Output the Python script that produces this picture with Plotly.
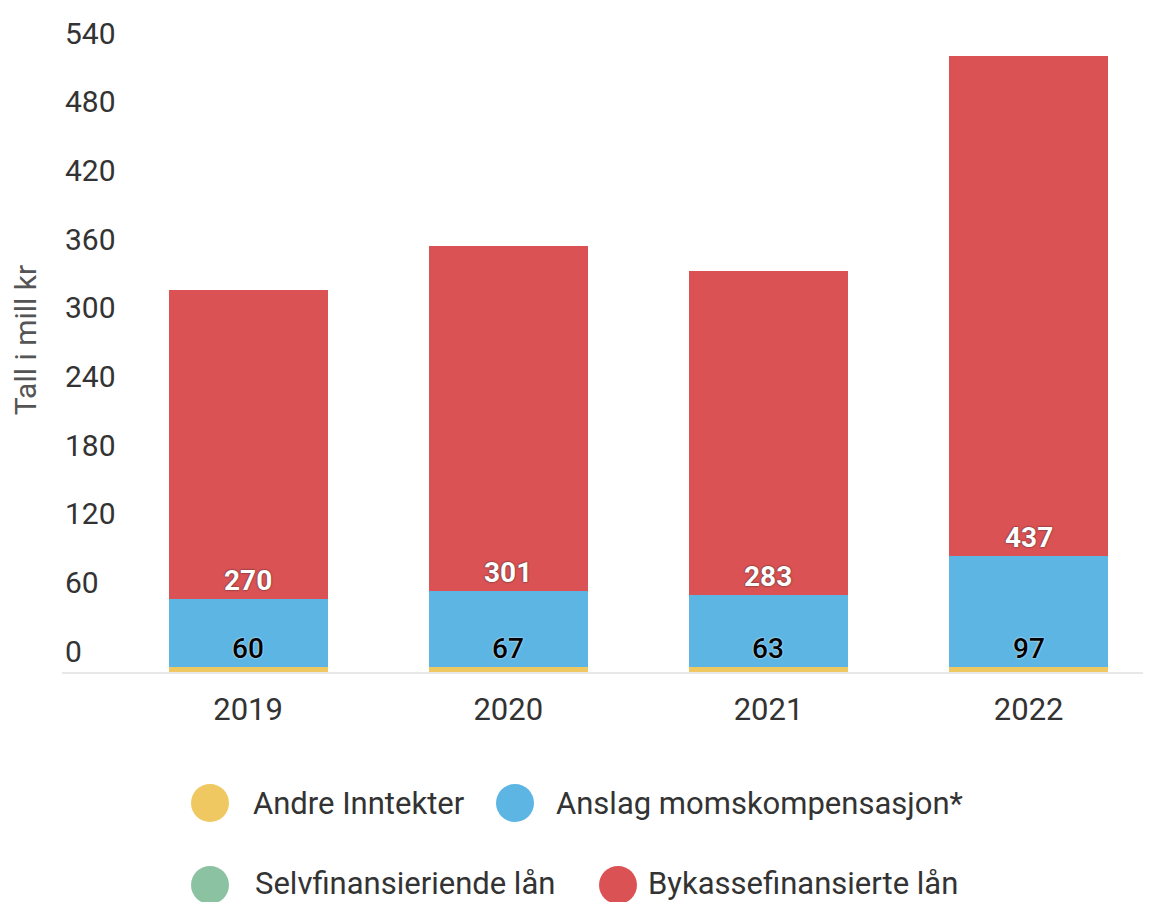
import plotly.graph_objects as go

years = ["2019", "2020", "2021", "2022"]
andre_inntekter = [4, 4, 4, 4]
momskompensasjon = [60, 67, 63, 97]
selvfinansierende = [0, 0, 0, 0]
bykassefinansierte = [270, 301, 283, 437]

series_names = ["Andre Inntekter", "Anslag momskompensasjon*", "Selvfinansieriende lån", "Bykassefinansierte lån"]
colors = ["#F0C862", "#5DB5E3", "#8BC2A2", "#DB5254"]
y_ticks = [0, 60, 120, 180, 240, 300, 360, 420, 480, 540]

FONT = "Roboto"
TEXT = "#333333"

OFF = 8  # page body margin
W, H = 1151 - OFF, 902 - OFF
ML, MR, MT, MB = 62 - OFF, 0, 0, 230
PW, PH = W - ML - MR, H - MT - MB
PX_PER_UNIT = 1.1444
Y_MAX = PH / PX_PER_UNIT

fig = go.Figure()
series = [andre_inntekter, momskompensasjon, selvfinansierende, bykassefinansierte]
for name, vals, col in zip(series_names, series, colors):
    fig.add_trace(go.Bar(x=years, y=vals, name=name, marker=dict(color=col, line=dict(width=0)),
                         width=0.611, showlegend=False, hoverinfo="x+y+name"))

# data labels at base of segments (category index positions)
for i, yr in enumerate(years):
    base_blue = andre_inntekter[i] + selvfinansierende[i]
    fig.add_annotation(x=i, y=base_blue, text=str(momskompensasjon[i]), showarrow=False,
                       yanchor="bottom", yshift=0, xref="x", yref="y",
                       font=dict(family=FONT, size=28, color="#000000", weight=500,
                                 shadow="0px 0px 2px #ffffff"))
    base_red = base_blue + momskompensasjon[i]
    fig.add_annotation(x=i, y=base_red, text=str(bykassefinansierte[i]), showarrow=False,
                       yanchor="bottom", yshift=0, xref="x", yref="y",
                       font=dict(family=FONT, size=28, color="#FFFFFF", weight="bold",
                                 shadow="0px 0px 2px #222"))

# custom legend with circles (page pixel coordinates)
def px_x(p):
    return (p - OFF - ML) / PW

def px_y(p):
    return (H - MB - (p - OFF)) / PH

legend_items = [
    (0, 210, 803, 252, 803),
    (1, 515, 803, 555, 803),
    (2, 210, 885, 254, 883),
    (3, 618, 885, 647, 883),
]
for idx, cx, cy, tx, ty in legend_items:
    fig.add_shape(type="circle", xref="paper", yref="paper", xsizemode="pixel", ysizemode="pixel",
                  xanchor=px_x(cx), yanchor=px_y(cy), x0=-19, x1=19, y0=-19, y1=19,
                  fillcolor=colors[idx], line=dict(width=0))
    fig.add_annotation(xref="paper", yref="paper", x=px_x(tx), y=px_y(ty), text=series_names[idx],
                       showarrow=False, xanchor="left", yanchor="middle", borderpad=0,
                       font=dict(family=FONT, size=31, color=TEXT, weight=400))

fig.update_layout(
    width=W, height=H,
    barmode="stack",
    plot_bgcolor="white", paper_bgcolor="white",
    margin=dict(l=ML, r=MR, t=MT, b=MB, autoexpand=False),
    font=dict(family=FONT, color=TEXT),
    bargap=0,
)
fig.update_xaxes(
    type="category", layer="below traces",
    range=[-0.715, 3.470], showgrid=False, showline=True, linecolor="#E8E8E8", linewidth=2,
    ticks="", tickfont=dict(family=FONT, size=31, color=TEXT, weight=400), ticklabelstandoff=9,
    automargin=False, zeroline=False,
)
fig.update_yaxes(
    range=[0, Y_MAX], tickvals=y_ticks, ticktext=[str(v) for v in y_ticks], showgrid=False,
    zeroline=False, showline=False, ticks="", ticklabelposition="inside", ticklabelshift=-21,
    tickfont=dict(family=FONT, size=30, color=TEXT, weight=400),
    title=dict(text="Tall i mill kr", font=dict(family=FONT, size=30, color="#555555"), standoff=25),
    automargin=False,
)

fig.write_html("out.html")
